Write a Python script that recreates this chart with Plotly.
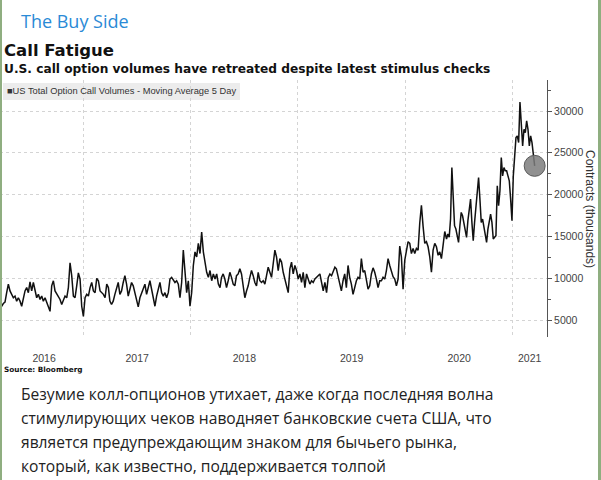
import pandas as pd
import plotly.graph_objects as go

# ---------------- data (thousands of contracts, 5-day moving average) ----------------
stretch_starts = ["2016-03-23", "2017-04-01", "2018-04-16", "2019-05-12", "2020-05-21"]
stretch_ends = ["2017-03-27", "2018-04-11", "2019-05-07", "2020-05-15", "2021-03-17"]

calls_2016 = [7660, 6645, 6970, 7130, 8270, 9290, 8475, 8070, 7660, 7865,
              7255, 7660, 7255, 6645, 7660, 8475, 8880, 8270, 9570, 8475,
              9490, 8680, 7660, 8070, 7460, 7865, 7255, 7660, 7050, 6645,
              6035, 9085, 9695, 8475, 8070, 7865, 7460, 6850, 7460, 7865,
              7660, 8880, 11850, 10300, 7865, 7660, 9085, 10630, 9900, 6645,
              5425, 7660, 8070, 7865, 8880, 9490, 8475, 8270, 9980, 9695,
              8475, 8270, 8070, 7660, 9290, 8880]
calls_2017 = [7255, 6850, 7255, 8070, 8880, 9490, 8070, 8475, 9490, 10300,
              9290, 7865, 8680, 9490, 9085, 8270, 7660, 6565, 7660, 8270,
              8880, 9290, 8070, 8880, 9695, 8680, 7660, 6645, 7865, 8680,
              9490, 8270, 7865, 8270, 7660, 8270, 9900, 10100, 9695, 9490,
              9695, 9290, 7660, 9490, 13355, 11120, 8270, 9695, 6645, 8270,
              11525, 13150, 12540, 14170, 12950, 15510, 13150, 11930, 10710, 10100,
              10915, 9695, 10510, 9900, 10510, 9290, 8880]
calls_2018 = [10100, 10510, 9900, 8880, 9695, 10710, 10100, 9290, 9085, 10300,
              10510, 11120, 10510, 8880, 7660, 8475, 9085, 10100, 10915, 10300,
              9490, 9085, 10710, 9695, 9490, 9695, 9290, 10300, 11320, 10710,
              10100, 11730, 13355, 12540, 10915, 12340, 11930, 10710, 9900, 9290,
              8270, 11120, 11930, 10510, 11525, 10915, 9900, 10510, 9490, 10710,
              8880, 10510, 9900, 9290, 9695, 9490, 9900, 10100, 10300, 10510,
              9490, 8475, 9490, 8270, 10100, 10510, 10300, 10915, 11320]
calls_2019 = [11120, 10100, 9490, 8475, 9695, 10510, 8880, 11525, 10100, 9290,
              8070, 8880, 9695, 10100, 9900, 12340, 10710, 10915, 9900, 8680,
              9085, 10510, 11240, 10710, 9900, 8880, 9695, 9695, 10100, 9900,
              10915, 12340, 11525, 10710, 10180, 9900, 9085, 9900, 13840, 12540,
              8680, 12135, 13355, 14370, 14170, 12950, 13560, 12950, 13560, 13355,
              16610, 18720, 16200, 14170, 14370, 13760, 12540, 10710, 13355, 14170,
              13760, 12745, 13150, 12340, 13965, 15590]
calls_2020 = [14690, 15290, 14890, 17075, 23240, 20455, 16280, 15880, 15090, 14290,
              16280, 17870, 17470, 16480, 15680, 14890, 16880, 18070, 19460, 16680,
              14490, 16680, 18865, 21050, 22050, 19460, 16680, 17075, 16280, 15090,
              14290, 15880, 17075, 17670, 16680, 14690, 14890, 15090, 21050, 18670,
              20455, 24430, 22245, 23240, 22840, 22840, 22245, 21650, 19460, 16880,
              22245, 25230, 26820, 27020, 26220, 31075, 28610, 25825, 27815, 27415,
              28810, 27815, 25825, 27020, 26220, 24630, 23440]
stretches = [calls_2016, calls_2017, calls_2018, calls_2019, calls_2020]

year_labels = ["2016", "2017", "2018", "2019", "2020", "2021"]
year_label_dates = ["2016-08-20", "2017-07-03", "2018-07-03", "2019-07-03", "2020-07-03", "2021-02-28"]
year_starts = ["2017-01-01", "2018-01-01", "2019-01-01", "2020-01-01", "2021-01-01"]
x_range = ["2016-03-23", "2021-04-28"]
y_range = [2967, 33708]

dates, values = [], []
for s, e, v in zip(stretch_starts, stretch_ends, stretches):
    dates += list(pd.date_range(s, e, periods=len(v)))
    values += v

# ---------------- layout helpers (pixel -> paper) ----------------
W, H = 601, 480
ML, MR, MT, MB = 0, 54, 80, 143
PW, PH = W - ML - MR, H - MT - MB


def px(x):
    return (x - ML) / PW


def py(y):
    return (H - MB - y) / PH


fig = go.Figure()
fig.add_trace(go.Scatter(x=dates, y=values, mode="lines",
                         line=dict(color="#111111", width=1.5),
                         hoverinfo="skip", showlegend=False))
fig.add_trace(go.Scatter(x=[dates[-1]], y=[values[-1]], mode="markers",
                         marker=dict(size=21, color="rgba(125,125,125,0.85)",
                                     line=dict(color="#5a5a5a", width=1)),
                         hoverinfo="skip", showlegend=False))

grid = "#d4d4d4"
fig.update_layout(
    width=W, height=H, autosize=False,
    margin=dict(l=ML, r=MR, t=MT, b=MB, pad=0),
    paper_bgcolor="white", plot_bgcolor="white",
    font=dict(family="Liberation Sans, Arial, sans-serif", color="#444444"),
    xaxis=dict(
        type="date", range=x_range,
        tickmode="array", tickvals=year_label_dates, ticktext=year_labels,
        tickfont=dict(size=10.5, color="#444444"),
        ticks="", ticklabelstandoff=13,
        showgrid=False, showline=False, zeroline=False,
        minor=dict(tickmode="array", tickvals=year_starts, showgrid=True,
                   gridcolor=grid, griddash="dot", gridwidth=1, ticks=""),
    ),
    yaxis=dict(
        range=y_range, side="right", tick0=0, dtick=5000, tickformat="d",
        tickfont=dict(size=10.5, color="#444444"),
        ticks="outside", ticklen=4, tickcolor="#555555", tickwidth=1,
        showline=True, linecolor="#555555", linewidth=1,
        showgrid=True, gridcolor=grid, griddash="dot", gridwidth=1,
        zeroline=False,
        minor=dict(dtick=2500, ticks="outside", ticklen=3, tickcolor="#555555", showgrid=False),
    ),
)

shapes = [
    # legend box
    dict(type="rect", xref="paper", yref="paper", x0=px(3), x1=px(240), y0=py(100), y1=py(83),
         fillcolor="#ececec", line=dict(width=0), layer="below"),
    # message frame edges
    dict(type="rect", xref="paper", yref="paper", x0=px(0), x1=px(2), y0=py(480), y1=py(0),
         fillcolor="#8fae80", line=dict(width=0), layer="above"),
    dict(type="rect", xref="paper", yref="paper", x0=px(598), x1=px(601), y0=py(480), y1=py(0),
         fillcolor="#8fae80", line=dict(width=0), layer="above"),
]
fig.update_layout(shapes=shapes)


def note(text, x, y, size, family, color, **kw):
    fig.add_annotation(text=text, x=px(x), y=py(y), xref="paper", yref="paper",
                       xanchor=kw.pop("xanchor", "left"), yanchor="middle", showarrow=False,
                       font=dict(size=size, family=family, color=color), **kw)


note("The Buy Side", 19, 21, 18, "Open Sans", "#2a8ad6")
note("<b>Call Fatigue</b>", 2, 51, 16.5, "DejaVu Sans", "#111111")
note("<b>U.S. call option volumes have retreated despite latest stimulus checks</b>",
     2, 69, 12.2, "DejaVu Sans", "#111111")
note("■US Total Option Call Volumes - Moving Average 5 Day", 5, 91.5, 9.3,
     "Liberation Sans", "#333333")
note("<b>Source: Bloomberg</b>", 2, 369, 7.3, "DejaVu Sans", "#111111")
note("Contracts (thousands)", 590, 209, 12, "Liberation Sans", "#333333",
     textangle=90, xanchor="center")

body_lines = [
    "Безумие колл-опционов утихает, даже когда последняя волна",
    "стимулирующих чеков наводняет банковские счета США, что",
    "является предупреждающим знаком для бычьего рынка,",
    "который, как известно, поддерживается толпой",
]
for i, line in enumerate(body_lines):
    note(line, 19, 394 + i * 24, 15.6, "Open Sans", "#222222")

fig.write_html("out.html")
